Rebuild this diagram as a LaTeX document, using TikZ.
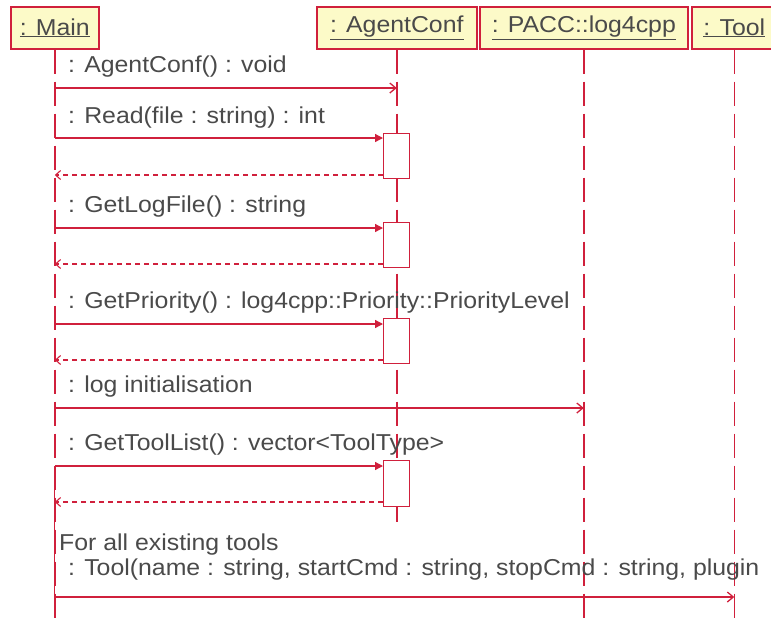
\documentclass[tikz,border=0pt]{standalone}
\usepackage{fontspec}
\usepackage{graphicx}
\setmainfont{Liberation Sans}
\usetikzlibrary{arrows.meta}
\definecolor{umlred}{HTML}{D0203C}
\definecolor{umlfill}{HTML}{FCFAC8}
\definecolor{umltext}{HTML}{4A4A4A}
\newcommand{\wtxt}[1]{\scalebox{1.08}[1]{#1}}
\begin{document}
\begin{tikzpicture}[x=1pt,y=-1pt,
  every node/.style={font=\fontsize{23}{27}\selectfont, text=umltext},
  hdr/.style={draw=umlred, line width=1.6pt, fill=umlfill, minimum height=42pt, inner sep=0pt, anchor=north west},
  life/.style={draw=umlred, line width=1.4pt, dash pattern=on 24pt off 8pt},
  actbox/.style={draw=umlred, line width=1.3pt, fill=white, minimum width=26pt, inner sep=0pt, anchor=north west},
  call/.style={draw=umlred, line width=1.3pt, -{Triangle[length=8pt,width=8pt]}},
  sendmsg/.style={draw=umlred, line width=1.3pt, -{Straight Barb[length=6pt,width=10pt]}},
  ret/.style={draw=umlred, line width=1.1pt, dash pattern=on 5pt off 4pt, -{Straight Barb[length=5pt,width=9pt]}},
  lbl/.style={anchor=base west, inner sep=0pt}
]
\useasboundingbox (0,0) rectangle (771,625);
\clip (0,0) rectangle (771,625);

% headers
\node[hdr, minimum width=88pt] (main) at (10,6) {\wtxt{\underline{: Main}}};
\node[hdr, minimum width=160pt] (conf) at (316,6) {\wtxt{\underline{: AgentConf}}};
\node[hdr, minimum width=208pt] (pacc) at (479,6) {\wtxt{\underline{: PACC::log4cpp}}};
\node[hdr, minimum width=85pt] (tool) at (691,6) {\wtxt{\underline{: Tool}}};

% lifeline ends
\coordinate (bottom) at (0,625);
\coordinate (confend) at (0,527);
\draw[life] (main.south) -- (main.south |- bottom);
\draw[life] (conf.south) -- (conf.south |- confend);
\draw[life] (pacc.south) -- (pacc.south |- bottom);
\draw[life] (tool.south) -- (tool.south |- bottom);

% activation boxes
\node[actbox, minimum height=45pt] (act1) at (383,133) {};
\node[actbox, minimum height=45pt] (act2) at (383,222) {};
\node[actbox, minimum height=45pt] (act3) at (383,318) {};
\node[actbox, minimum height=46pt] (act4) at (383,460) {};

% message y levels
\coordinate (y1) at (0,88);
\coordinate (y2) at (0,138);
\coordinate (r2) at (0,175);
\coordinate (y3) at (0,228);
\coordinate (r3) at (0,264);
\coordinate (y4) at (0,324);
\coordinate (r4) at (0,360);
\coordinate (y5) at (0,408);
\coordinate (y6) at (0,466);
\coordinate (r6) at (0,502);
\coordinate (y7) at (0,597);

% loop segment on main lifeline
\draw[draw=umlred, line width=1.3pt] (main.south |- y6) -- (main.south |- y7);

% messages
\draw[sendmsg] (main.south |- y1) -- (conf.south |- y1);
\node[lbl] (t1) at (68,72) {\wtxt{: AgentConf() : void}};

\draw[call] (main.south |- y2) -- (act1.west |- y2);
\draw[ret] (act1.west |- r2) -- (main.south |- r2);
\node[lbl] (t2) at (68,123) {\wtxt{: Read(file : string) : int}};

\draw[call] (main.south |- y3) -- (act2.west |- y3);
\draw[ret] (act2.west |- r3) -- (main.south |- r3);
\node[lbl] (t3) at (68,212) {\wtxt{: GetLogFile() : string}};

\draw[call] (main.south |- y4) -- (act3.west |- y4);
\draw[ret] (act3.west |- r4) -- (main.south |- r4);
\node[lbl] (t4) at (68,308) {\wtxt{: GetPriority() : log4cpp::Priority::PriorityLevel}};

\draw[sendmsg] (main.south |- y5) -- (pacc.south |- y5);
\node[lbl] (t5) at (68,392) {\wtxt{: log initialisation}};

\draw[call] (main.south |- y6) -- (act4.west |- y6);
\draw[ret] (act4.west |- r6) -- (main.south |- r6);
\node[lbl] (t6) at (68,450) {\wtxt{: GetToolList() : vector<ToolType>}};

\node[lbl] (t7) at (59,550) {\wtxt{For all existing tools}};
\draw[sendmsg] (main.south |- y7) -- (tool.south |- y7);
\node[lbl] (t8) at (68,575) {\wtxt{: Tool(name : string, startCmd : string, stopCmd : string, plugin}};
\end{tikzpicture}
\end{document}
